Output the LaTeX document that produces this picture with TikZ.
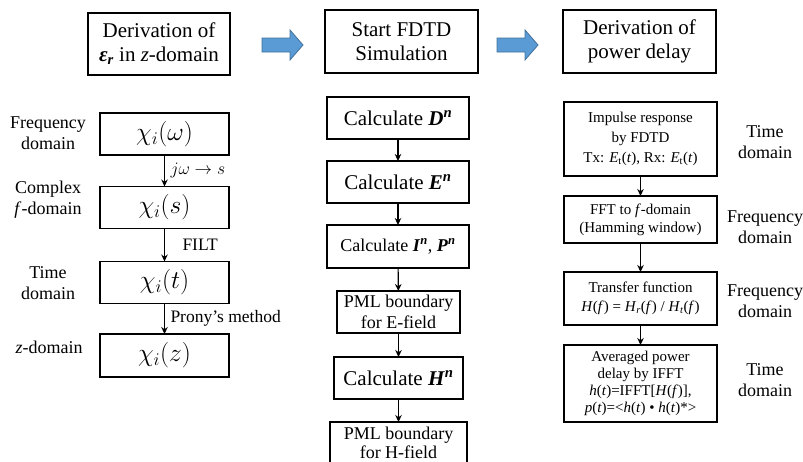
\RequirePackage{fix-cm}
\documentclass[tikz,border=0pt]{standalone}
\usepackage{fontspec}
\IfFontExistsTF{LiberationSerif-Regular.ttf}
  {\setmainfont{LiberationSerif}[Extension=.ttf,UprightFont=*-Regular,BoldFont=*-Bold,ItalicFont=*-Italic,BoldItalicFont=*-BoldItalic]}
  {\setmainfont{Liberation Serif}[UprightFont={* Regular}]}
\usetikzlibrary{arrows.meta}
\newcommand{\fs}[2]{\fontsize{#1}{#2}\selectfont}
\newcommand{\bi}[1]{\textbf{\textit{#1}}}
\definecolor{arrowblue}{HTML}{5B9BD5}
\definecolor{arrowedge}{HTML}{41719C}
\tikzset{
  every node/.style={inner sep=0pt, outer sep=0pt},
  box/.style={draw, line width=1.4pt, align=center},
  lbl/.style={align=center, font=\fs{18}{21}},
  alab/.style={anchor=west, font=\fs{17.5}{20}},
  flow/.style={line width=1.1pt, -{Stealth[length=7pt,width=6.5pt]}},
  blk/.style={fill=arrowblue, draw=arrowedge, line width=0.8pt},
  chi/.style={box, minimum width=129pt, minimum height=42pt, font=\fs{25.5}{30}}
}
\begin{document}
\begin{tikzpicture}[x=1pt,y=-1pt]
\useasboundingbox (0,0) rectangle (803,461);
% top row
\node[box, minimum width=142pt, minimum height=62pt, font=\fs{21}{24}] (t1) at (159,44)
  {Derivation of\\ \bi{ε}\textsubscript{\bi{r}} in \textit{z}-domain};
\node[box, minimum width=153pt, minimum height=63pt, font=\fs{21}{24}] (t2) at (401.5,41.5)
  {Start FDTD\\Simulation};
\node[box, minimum width=153pt, minimum height=63pt, font=\fs{21}{24}] (t3) at (639.5,41.5)
  {Derivation of\\power delay};
\draw[blk] (262,38) -- (290,38) -- (290,30) -- (303,45) -- (290,60) -- (290,52) -- (262,52) -- cycle;
\draw[blk] (497,38) -- (525,38) -- (525,30) -- (538,45) -- (525,60) -- (525,52) -- (497,52) -- cycle;
% left column
\node[chi] (c1) at (164.5,134) {$\chi_i(\omega)$};
\node[chi] (c2) at (164.5,207.5) {$\chi_i(s)$};
\node[chi] (c3) at (164.5,282.5) {$\chi_i(t)$};
\node[chi, minimum height=43pt] (c4) at (164.5,355.5) {$\chi_i(z)$};
\draw[flow] (c1) -- node[alab, xshift=6pt] {$j\omega\rightarrow s$} (c2);
\draw[flow] (c2) -- node[alab, xshift=18pt] {FILT} (c3);
\draw[flow] (c3) -- node[alab, xshift=6pt] {Prony’s method} (c4);
\node[lbl] (l1) at (48,133) {Frequency\\domain};
\node[lbl] (l2) at (48,200) {Complex\\\textit{f}-domain};
\node[lbl] (l3) at (48,283) {Time\\domain};
\node[lbl] (l4) at (49,347) {\textit{z}-domain};
% middle column
\node[box, minimum width=142pt, minimum height=42pt, font=\fs{21}{24}] (d) at (398,118)
  {Calculate \bi{D}\textsuperscript{\bi{n}}};
\node[box, minimum width=142pt, minimum height=42pt, font=\fs{21}{24}] (e) at (398,182)
  {Calculate \bi{E}\textsuperscript{\bi{n}}};
\node[box, minimum width=142pt, minimum height=43pt, font=\fs{18}{21}] (ip) at (398,246.5)
  {Calculate \bi{I}\textsuperscript{\bi{n}}, \bi{P}\textsuperscript{\bi{n}}};
\node[box, minimum width=123pt, minimum height=42pt, font=\fs{18}{21}] (pe) at (398.5,312)
  {PML boundary\\for E-field};
\node[box, minimum width=129pt, minimum height=42pt, font=\fs{21}{24}] (h) at (398.5,378)
  {Calculate \bi{H}\textsuperscript{\bi{n}}};
\node[box, minimum width=137pt, minimum height=42pt, font=\fs{18}{19}] (ph) at (398.5,443)
  {PML boundary\\for H-field};
\draw[flow] (d) -- (e);
\draw[flow] (e) -- (ip);
\draw[flow] (ip) -- (pe);
\draw[flow] (pe) -- (h);
\draw[flow] (h) -- (ph);
% right column
\node[box, minimum width=153pt, minimum height=74pt, font=\fs{15}{20}] (r1) at (640.5,139)
  {Impulse response\\by FDTD\\Tx: \textit{E}\textsubscript{t}(\textit{t}), Rx: \textit{E}\textsubscript{t}(\textit{t})};
\node[box, minimum width=153pt, minimum height=47pt, font=\fs{15}{18}] (r2) at (640.5,219.5)
  {FFT to \textit{f}-domain\\(Hamming window)};
\node[box, minimum width=153pt, minimum height=53pt, font=\fs{15}{19}] (r3) at (640.5,298.5)
  {Transfer function\\\textit{H}(\textit{f}) = \textit{H}\textsubscript{\textit{r}}(\textit{f}) / \textit{H}\textsubscript{\textit{t}}(\textit{f})};
\node[box, minimum width=153pt, minimum height=77pt, font=\fs{15}{17}] (r4) at (640.5,383.5)
  {Averaged power\\delay by IFFT\\\textit{h}(\textit{t})=IFFT[\textit{H}(\textit{f})],\\\textit{p}(\textit{t})=<\textit{h}(\textit{t}) \textbullet{} \textit{h}(\textit{t})*>};
\draw[flow] (r1) -- (r2);
\draw[flow] (r2) -- (r3);
\draw[flow] (r3) -- (r4);
\node[lbl] (q1) at (765,142) {Time\\domain};
\node[lbl] (q2) at (765,227) {Frequency\\domain};
\node[lbl] (q3) at (765,301) {Frequency\\domain};
\node[lbl] (q4) at (765,380) {Time\\domain};
\end{tikzpicture}
\end{document}
